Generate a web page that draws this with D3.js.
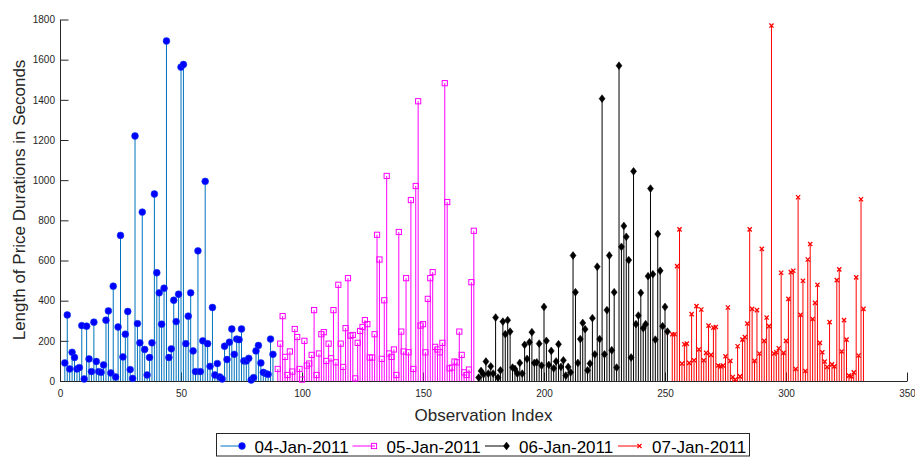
<!DOCTYPE html>
<html>
<head>
<meta charset="utf-8">
<script src="https://cdn.jsdelivr.net/npm/d3@7/dist/d3.min.js"></script>
<style>
  html, body { margin: 0; padding: 0; background: #fff; }
  svg { display: block; font-family: "Liberation Sans", Arial, Helvetica, sans-serif; }
</style>
</head>
<body>
<svg id="chart" width="915" height="457"></svg>
<script>
// Price durations (seconds) per observation, one array per trading day
const dayLabels = ["04-Jan-2011", "05-Jan-2011", "06-Jan-2011", "07-Jan-2011"];
const dayFirstIndex = [2, 90, 173, 253];

const jan04 = [90, 329, 60, 143, 117, 60, 67, 276, 10, 273,
  110, 47, 293, 97, 47, 43, 80, 303, 349, 40,
  472, 20, 269, 725, 120, 233, 346, 57, 13, 1220,
  286, 190, 841, 157, 30, 117, 190, 931, 539, 439,
  283, 462, 1693, 117, 160, 402, 296, 432, 1563, 1576,
  186, 323, 439, 150, 47, 648, 47, 200, 994, 186,
  73, 366, 30, 87, 20, 10, 173, 107, 193, 259,
  133, 209, 206, 259, 100, 100, 113, 5, 17, 150,
  177, 90, 43, 37, 33, 209, 133];

const jan05 = [60, 186, 323, 120, 30, 147, 47, 259, 219, 60,
  7, 200, 77, 87, 130, 353, 30, 137, 233, 243,
  100, 186, 113, 353, 93, 479, 186, 70, 263, 512,
  226, 229, 13, 190, 249, 269, 303, 283, 117, 117,
  233, 728, 605, 110, 402, 1021, 137, 120, 157, 30,
  742, 246, 147, 512, 143, 901, 60, 971, 1393, 276,
  283, 143, 409, 512, 542, 170, 157, 143, 190, 1483,
  891, 63, 67, 97, 93, 246, 130, 43, 30, 57,
  492, 748];

const jan06 = [17, 50, 33, 97, 37, 73, 37, 316, 17, 53,
  296, 233, 303, 246, 67, 60, 37, 90, 37, 180,
  110, 193, 243, 90, 93, 186, 77, 369, 200, 80,
  150, 63, 97, 183, 70, 103, 27, 70, 43, 625,
  442, 90, 209, 289, 258, 53, 87, 313, 133, 569,
  209, 1406, 133, 353, 625, 153, 442, 67, 1570, 668,
  772, 718, 602, 117, 1044, 283, 326, 439, 263, 283,
  522, 958, 532, 206, 732, 549, 273, 369, 246];

const jan07 = [233, 233, 572, 755, 87, 183, 186, 90, 333, 103,
  373, 157, 356, 103, 140, 276, 130, 266, 269, 77,
  73, 77, 123, 366, 100, 20, 7, 173, 23, 206,
  219, 286, 755, 359, 100, 353, 137, 658, 200, 316,
  273, 1770, 137, 143, 163, 539, 140, 200, 409, 542,
  549, 60, 915, 329, 499, 50, 605, 682, 309, 389,
  479, 190, 143, 97, 70, 293, 83, 73, 502, 556,
  147, 303, 206, 27, 23, 43, 516, 127, 905, 359];

const xTicks = [0, 50, 100, 150, 200, 250, 300, 350];
const yTicks = [0, 200, 400, 600, 800, 1000, 1200, 1400, 1600, 1800];

const seriesValues = [jan04, jan05, jan06, jan07];

// Look of each day's stems and markers
const styles = [
  { stem: "#0072BD", marker: "circle" },
  { stem: "#FF00FF", marker: "square" },
  { stem: "#000000", marker: "diamond" },
  { stem: "#FF0000", marker: "cross" }
];

const svg = d3.select("#chart");
const axisColor = "#262626";

const x = d3.scaleLinear().domain([0, 350]).range([60, 907]);
const y = d3.scaleLinear().domain([0, 1800]).range([381, 19.5]);

function drawMarker(g, kind, cx, cy) {
  if (kind === "circle") {
    g.append("circle").attr("cx", cx).attr("cy", cy).attr("r", 3.4)
      .attr("fill", "#0000FF").attr("stroke", "#1040e8").attr("stroke-width", 0.6);
  } else if (kind === "square") {
    g.append("rect").attr("x", cx - 2.6).attr("y", cy - 2.6)
      .attr("width", 5.2).attr("height", 5.2)
      .attr("fill", "none").attr("stroke", "#FF00FF").attr("stroke-width", 1);
  } else if (kind === "diamond") {
    g.append("path")
      .attr("d", `M${cx},${cy - 3.9}L${cx + 3},${cy}L${cx},${cy + 3.9}L${cx - 3},${cy}Z`)
      .attr("fill", "#000").attr("stroke", "#000").attr("stroke-width", 0.5);
  } else {
    const s = 2.1;
    g.append("path")
      .attr("d", `M${cx - s},${cy - s}L${cx + s},${cy + s}M${cx - s},${cy + s}L${cx + s},${cy - s}`)
      .attr("fill", "none").attr("stroke", "#FF0000").attr("stroke-width", 1.3);
  }
}

// Axes (ticks point inward)
const yAxis = d3.axisLeft(y).tickValues(yTicks).tickFormat(d3.format("d"))
  .tickSize(-8.5).tickSizeOuter(0).tickPadding(5);
const xAxis = d3.axisBottom(x).tickValues(xTicks).tickFormat(d3.format("d"))
  .tickSize(-8.5).tickSizeOuter(0).tickPadding(9);

const gy = svg.append("g").attr("transform", "translate(60,0)").call(yAxis);
const gx = svg.append("g").attr("transform", "translate(0,381)").call(xAxis);
[gx, gy].forEach(g => {
  g.select(".domain").attr("stroke", axisColor).attr("stroke-width", 1);
  g.selectAll(".tick line").attr("stroke", axisColor).attr("stroke-width", 1);
  g.selectAll(".tick text").attr("fill", axisColor)
    .style("font-size", "10px").style("font-family", "'Liberation Sans', Arial, sans-serif");
});

// Stems and markers, one day after the other
seriesValues.forEach((vals, si) => {
  const st = styles[si];
  const g = svg.append("g");
  const pts = vals.map((v, i) => ({ idx: dayFirstIndex[si] + i, v }));
  g.selectAll("line.stem").data(pts).enter().append("line")
    .attr("class", "stem")
    .attr("x1", d => x(d.idx)).attr("x2", d => x(d.idx))
    .attr("y1", y(0)).attr("y2", d => y(d.v))
    .attr("stroke", st.stem).attr("stroke-width", 1);
  pts.forEach(d => drawMarker(g, st.marker, x(d.idx), y(d.v)));
});

// Axis titles
svg.append("text")
  .attr("x", 483.5).attr("y", 421)
  .attr("text-anchor", "middle")
  .attr("fill", axisColor)
  .style("font-size", "17px")
  .text("Observation Index");

svg.append("text")
  .attr("transform", "translate(25,200) rotate(-90)")
  .attr("text-anchor", "middle")
  .attr("fill", axisColor)
  .style("font-size", "17px")
  .text("Length of Price Durations in Seconds");

// Legend
const legend = svg.append("g");
legend.append("rect")
  .attr("x", 216.5).attr("y", 433.5).attr("width", 533).attr("height", 22.5)
  .attr("fill", "#fff").attr("stroke", axisColor).attr("stroke-width", 1);

const legendStarts = [220.5, 352.5, 485, 618];
dayLabels.forEach((label, i) => {
  const lx = legendStarts[i];
  const ly = 446;
  legend.append("line")
    .attr("x1", lx).attr("x2", lx + 22.5).attr("y1", ly).attr("y2", ly)
    .attr("stroke", styles[i].stem).attr("stroke-width", 1);
  drawMarker(legend, styles[i].marker, lx + 21.5, ly);
  legend.append("text")
    .attr("x", lx + 34).attr("y", 452.5)
    .attr("fill", "#000")
    .style("font-size", "17px")
    .text(label);
});
</script>
</body>
</html>
